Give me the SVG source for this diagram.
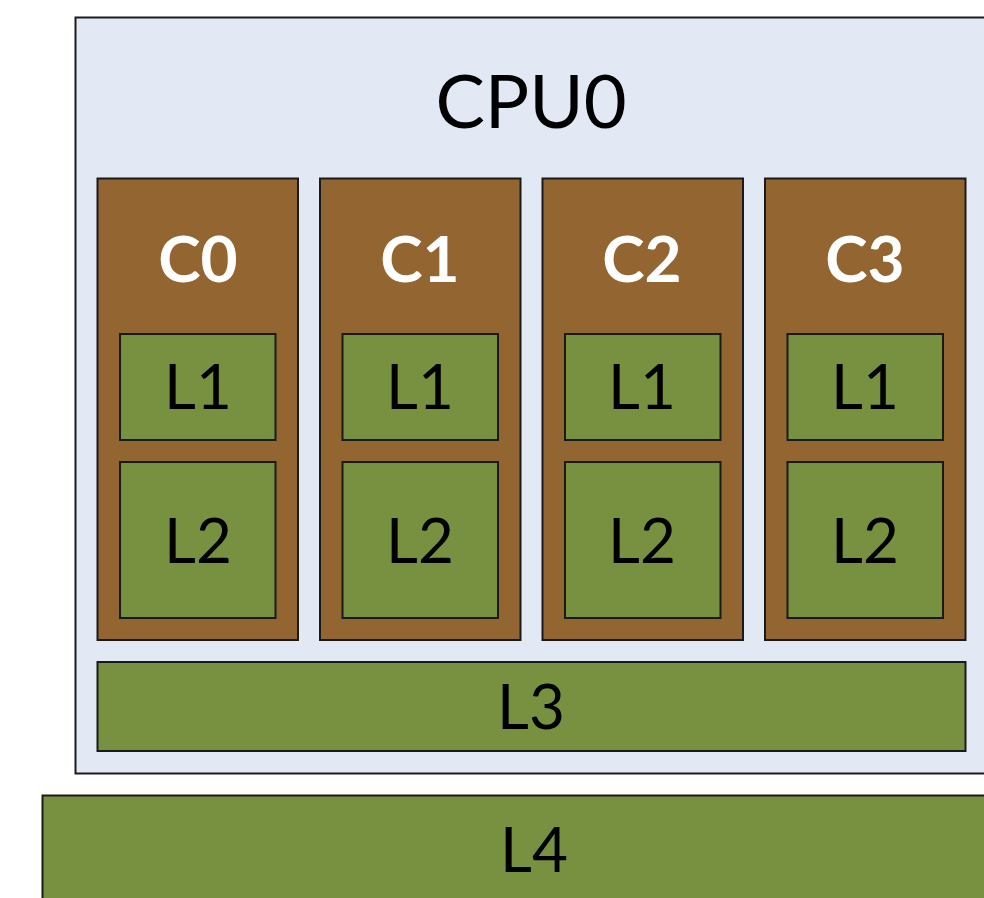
<svg xmlns="http://www.w3.org/2000/svg" width="984" height="898" viewBox="0 0 984 898">
<style>
.box{stroke:#1a1a1a;stroke-width:2}
.cpu{fill:#E2E8F4}
.core{fill:#936631}
.cache{fill:#789141}
.t{font-family:Lato,"Open Sans",sans-serif;text-anchor:middle;fill:#000}
.big{font-size:74px}
.ct{font-size:64px;font-weight:bold;fill:#fff}
.lt{font-size:62px}
</style>
<rect width="984" height="898" fill="#fff"/>
<g id="cpu0">
<rect class="box cpu" x="75.5" y="17.5" width="930" height="756"/>
<text class="t big" x="531" y="128">CPU0</text>
</g>
<g id="c0">
<rect class="box core" x="97.5" y="178.5" width="200.5" height="461.5"/>
<text class="t ct" x="198" y="282">C0</text>
<rect class="box cache" x="120" y="334" width="155.5" height="106"/>
<text class="t lt" x="198" y="409">L1</text>
<rect class="box cache" x="120" y="462" width="155.5" height="156"/>
<text class="t lt" x="198" y="563">L2</text>
</g>
<g id="c1">
<rect class="box core" x="320" y="178.5" width="200.5" height="461.5"/>
<text class="t ct" x="420" y="282">C1</text>
<rect class="box cache" x="342.5" y="334" width="155.5" height="106"/>
<text class="t lt" x="420" y="409">L1</text>
<rect class="box cache" x="342.5" y="462" width="155.5" height="156"/>
<text class="t lt" x="420" y="563">L2</text>
</g>
<g id="c2">
<rect class="box core" x="542.5" y="178.5" width="200.5" height="461.5"/>
<text class="t ct" x="642" y="282">C2</text>
<rect class="box cache" x="565" y="334" width="155.5" height="106"/>
<text class="t lt" x="642" y="409">L1</text>
<rect class="box cache" x="565" y="462" width="155.5" height="156"/>
<text class="t lt" x="642" y="563">L2</text>
</g>
<g id="c3">
<rect class="box core" x="765" y="178.5" width="200.5" height="461.5"/>
<text class="t ct" x="865" y="282">C3</text>
<rect class="box cache" x="787.5" y="334" width="155.5" height="106"/>
<text class="t lt" x="865" y="409">L1</text>
<rect class="box cache" x="787.5" y="462" width="155.5" height="156"/>
<text class="t lt" x="865" y="563">L2</text>
</g>
<g id="l3">
<rect class="box cache" x="97.5" y="662" width="868" height="89"/>
<text class="t lt" x="531" y="729">L3</text>
</g>
<g id="l4">
<rect class="box cache" x="42.5" y="795.5" width="970" height="120"/>
<text class="t lt" x="534" y="872">L4</text>
</g>
<g id="connectors"></g>
</svg>
